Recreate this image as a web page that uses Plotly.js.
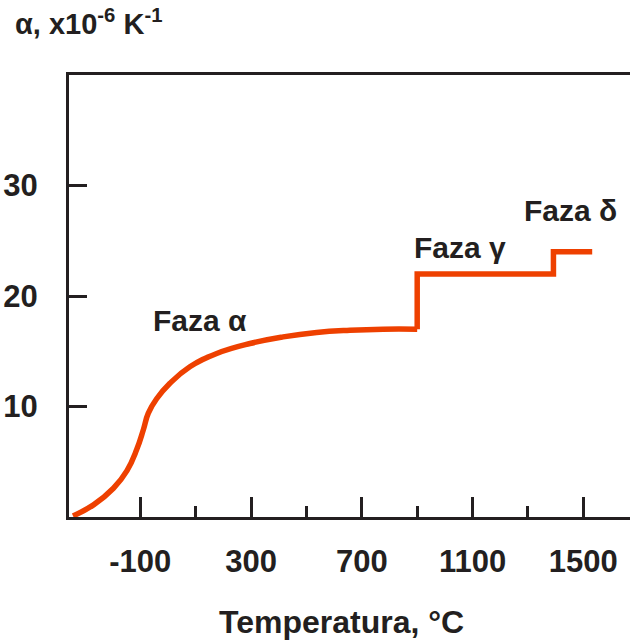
<!DOCTYPE html>
<html>
<head>
<meta charset="utf-8">
<script src="https://cdn.plot.ly/plotly-3.0.1.min.js"></script>
<style>html,body{margin:0;padding:0;background:#fff;}#chart{width:630px;height:641px;}</style>
</head>
<body>
<div id="chart"></div>
<script>
// Alpha-phase curve: temperature (°C) and expansion coefficient (x10^-6 K^-1)
const curveTemperature = [-343, -269, -197, -148, -113, -89, -71, -41, 7, 79, 176, 296, 416, 537, 657, 777, 900];
const curveAlpha = [0.1, 1.1, 2.6, 4.2, 6.1, 7.9, 9.4, 10.7, 12.1, 13.6, 14.8, 15.7, 16.3, 16.7, 16.9, 17.0, 17.0];
// Phase-transition steps (gamma, delta)
const stepTemperature = [900, 900, 1392, 1392, 1532];
const stepAlpha = [17.0, 22.0, 22.0, 24.0, 24.0];

const xTickVals = [-100, 300, 700, 1100, 1500];
const xTickText = ["-100", "300", "700", "1100", "1500"];
const xMinorTickVals = [100, 500, 900, 1300];
const yTickVals = [10, 20, 30];
const yTickText = ["10", "20", "30"];

const phaseLabels = ["Faza α", "Faza γ", "Faza δ"];
const phaseLabelX = [116, 1054, 1454];
const phaseLabelY = [17.8, 24.4, 27.7];

const ink = "#231f20";
const red = "#ee4000";
const font = "Liberation Sans, Arial, sans-serif";

const traces = [{
  x: curveTemperature, y: curveAlpha,
  type: "scatter", mode: "lines",
  line: {color: red, width: 5.5, shape: "spline", smoothing: 1.3},
  hoverinfo: "skip"
}, {
  x: stepTemperature, y: stepAlpha,
  type: "scatter", mode: "lines",
  line: {color: red, width: 5.5},
  hoverinfo: "skip"
}];

const annotations = phaseLabels.map((t, i) => ({
  x: phaseLabelX[i], y: phaseLabelY[i], xref: "x", yref: "y",
  text: "<b>" + t + "</b>", showarrow: false,
  xanchor: "center", yanchor: "middle",
  font: {family: font, size: 30, color: ink}
}));
annotations.push({
  x: -0.1, y: 1.12, xref: "paper", yref: "paper",
  text: "<b>α, x10<sup>-6</sup> K<sup>-1</sup></b>", showarrow: false,
  xanchor: "left", yanchor: "middle",
  font: {family: font, size: 29, color: ink}
});
annotations.push({
  x: 0.486, y: -0.2376, xref: "paper", yref: "paper",
  text: "<b>Temperatura, °C</b>", showarrow: false,
  xanchor: "center", yanchor: "middle",
  font: {family: font, size: 32, color: ink}
});

const layout = {
  width: 630, height: 641,
  margin: {l: 69, r: 0, t: 75, b: 124, pad: 0},
  paper_bgcolor: "#fff", plot_bgcolor: "#fff",
  showlegend: false,
  xaxis: {
    range: [-357.5, 1668.5],
    tickmode: "array", tickvals: xTickVals, ticktext: xTickText,
    ticks: "inside", ticklen: 20, tickwidth: 3, tickcolor: ink,
    minor: {tickmode: "array", tickvals: xMinorTickVals, ticks: "inside", ticklen: 11, tickwidth: 3, tickcolor: ink, showgrid: false},
    showline: true, linewidth: 3, linecolor: ink, mirror: true,
    showgrid: false, zeroline: false,
    tickfont: {family: font, size: 31, color: ink, weight: "bold"},
    ticklabelstandoff: 15,
    fixedrange: true
  },
  yaxis: {
    range: [0, 40],
    tickmode: "array", tickvals: yTickVals, ticktext: yTickText,
    ticks: "inside", ticklen: 18, tickwidth: 3, tickcolor: ink,
    showline: true, linewidth: 3, linecolor: ink,
    showgrid: false, zeroline: false,
    tickfont: {family: font, size: 31, color: ink, weight: "bold"},
    ticklabelstandoff: 22,
    fixedrange: true
  },
  annotations: annotations
};

Plotly.newPlot("chart", traces, layout, {staticPlot: true, displayModeBar: false});
</script>
</body>
</html>
